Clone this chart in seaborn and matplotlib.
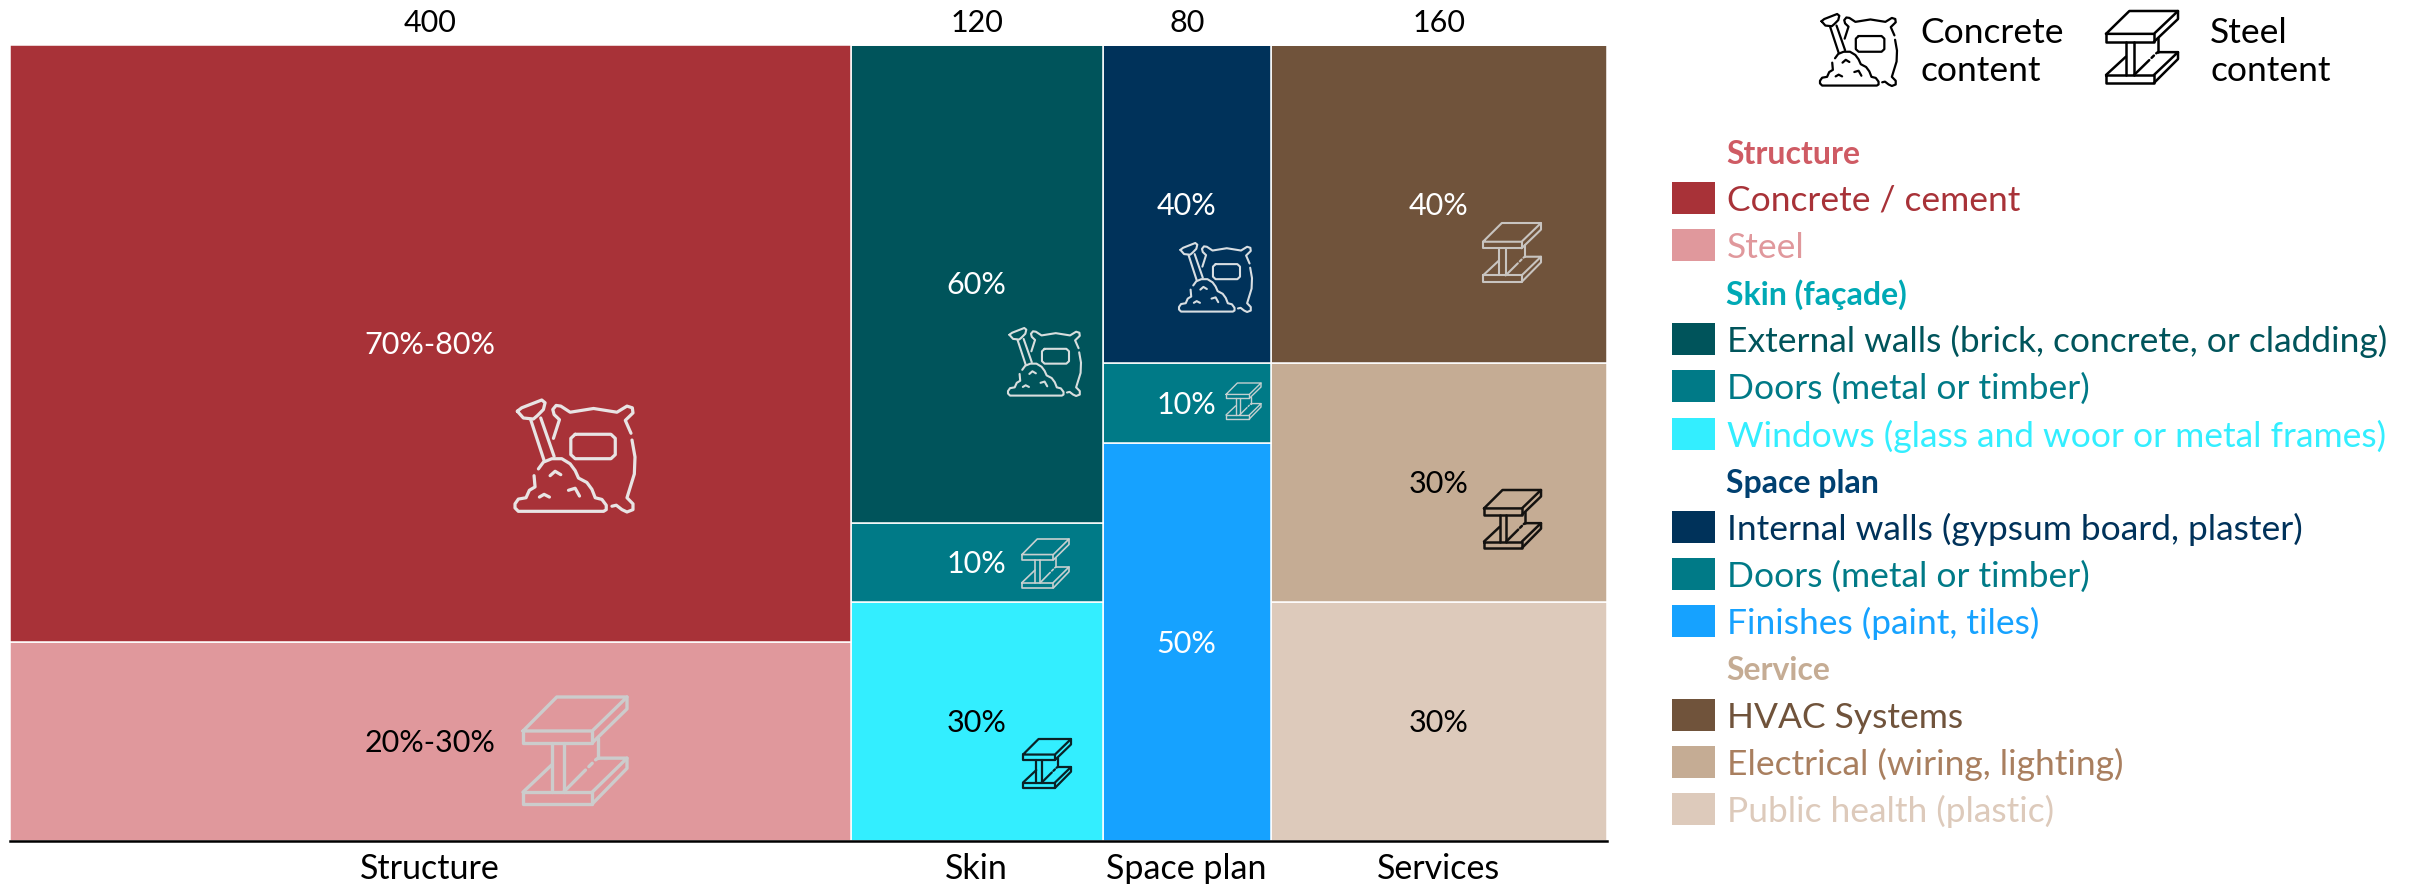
import numpy as np
import pandas as pd
import matplotlib.pyplot as plt
import seaborn as sns
from matplotlib.patches import Rectangle

# categories (bar widths, totals shown on top)
categories = ["Structure", "Skin", "Space plan", "Services"]
widths = [400, 120, 80, 160]

# parts per category, top to bottom
structure_parts = ["Concrete / cement", "Steel"]
structure_shares = [75, 25]
structure_labels = ["70%-80%", "20%-30%"]

skin_parts = ["External walls (brick, concrete, or cladding)", "Doors (metal or timber)", "Windows (glass and woor or metal frames)"]
skin_shares = [60, 10, 30]
skin_labels = ["60%", "10%", "30%"]

space_parts = ["Internal walls (gypsum board, plaster)", "Doors (metal or timber) ", "Finishes (paint, tiles)"]
space_shares = [40, 10, 50]
space_labels = ["40%", "10%", "50%"]

service_parts = ["HVAC Systems", "Electrical (wiring, lighting)", "Public health (plastic)"]
service_shares = [40, 30, 30]
service_labels = ["40%", "30%", "30%"]

all_parts = [structure_parts, skin_parts, space_parts, service_parts]
all_shares = [structure_shares, skin_shares, space_shares, service_shares]
all_labels = [structure_labels, skin_labels, space_labels, service_labels]

# colours
fills = ["#A83238", "#E0989C", "#00545B", "#007A87", "#33EEFF", "#00325A", "#007A87", "#16A2FF", "#70533B", "#C5AC94", "#DDCABB"]
label_colors = ["white", "black", "white", "white", "black", "white", "white", "white", "white", "black", "black"]
legend_text = ["#A83238", "#E0989C", "#00545B", "#007A87", "#33EEFF", "#00325A", "#007A87", "#16A2FF", "#70533B", "#A97F5F", "#DDCABB"]
header_colors = ["#CF5B64", "#00A9B5", "#004070", "#C5AC94"]
headers = ["Structure", "Skin (façade)", "Space plan", "Service"]

sns.set_theme(style="white")
plt.rcParams["font.family"] = ["Lato", "DejaVu Sans"]

W, H = 2420, 884
TXT = 22
WORDS = 25.5

fig = plt.figure(figsize=(W / 100, H / 100), dpi=100)
ax = fig.add_axes([10 / W, 1 - 841 / H, (1607 - 10) / W, (841 - 45) / H])

# build the table
edges = np.concatenate([[0], np.cumsum(widths)])
mids = (edges[:-1] + edges[1:]) / 2
rows = []
for i, cat in enumerate(categories):
    for p, s in zip(all_parts[i], all_shares[i]):
        rows.append({"category": cat, "part": p, "share": s, "mid": mids[i]})
df = pd.DataFrame(rows)

part_order = list(df["part"])
palette = dict(zip(part_order, fills))

# histplot with weights and uneven bins gives the variable width stacked bars
sns.histplot(data=df, x="mid", weights="share", hue="part", hue_order=part_order,
             palette=palette, bins=[float(e) for e in edges], multiple="stack", alpha=1,
             edgecolor="white", linewidth=1.1, legend=False, ax=ax)

ax.set_xlim(0, edges[-1])
ax.set_ylim(0, 100)
ax.set_xlabel("")
ax.set_ylabel("")
ax.set_yticks([])
ax.set_xticks(mids)
ax.set_xticklabels(categories, fontsize=24.5, color="black")
ax.tick_params(axis="x", length=0, pad=8.5)
sns.despine(ax=ax, left=True)
ax.spines["bottom"].set_linewidth(1.8)
ax.spines["bottom"].set_color("black")

top = ax.secondary_xaxis("top")
top.set_xticks(mids)
top.set_xticklabels([str(w) for w in widths], fontsize=TXT, color="black")
top.tick_params(axis="x", length=0, pad=6)
top.spines["top"].set_visible(False)

# percentage labels centred in each block
k = 0
for i in range(len(categories)):
    base = 100
    for s, lab in zip(all_shares[i], all_labels[i]):
        ax.text(mids[i], base - s / 2 - 0.2, lab, ha="center", va="center", fontsize=TXT, color=label_colors[k])
        base -= s
        k += 1

# icon outlines, traced
bag_lines = [
    [(112,95),(125,85),(185,62),(195,70),(190,90),(172,108),(160,118),(130,115),(112,95)],
    [(152,120),(192,240)],
    [(182,115),(222,228)],
    [(175,265),(190,245),(215,235),(245,235),(270,250),(285,270),(295,292),(320,305),(335,325),(345,350),(365,355),(378,372),(378,385),(370,390),(115,390),(105,380),(105,368),(115,354),(138,350),(148,328),(165,318),(162,285)],
    [(210,285),(225,272),(242,282)],
    [(178,348),(192,340),(208,348)],
    [(265,328),(285,322),(298,345)],
    [(220,175),(238,120),(222,105),(218,90),(228,78),(242,80),(270,98),(340,87),(410,98),(440,80),(456,85),(458,100),(435,122),(452,160)],
    [(455,180),(464,230),(462,280),(440,350),(458,368),(458,385),(440,392),(425,385),(408,372),(395,375)],
    [(285,163),(392,163),(405,175),(405,223),(392,235),(285,235),(272,223),(272,175),(285,163)],
]
beam_lines = [
    [(100,155),(200,55),(408,55),(305,155),(100,155)],
    [(100,155),(100,190),(305,190),(305,155)],
    [(305,190),(408,90),(408,55)],
    [(185,190),(185,335)],
    [(220,190),(220,335)],
    [(100,335),(305,335),(305,370),(100,370),(100,335)],
    [(100,335),(185,255)],
    [(220,335),(285,270)],
    [(295,260),(305,250)],
    [(315,240),(322,235),(408,235),(305,335)],
    [(408,235),(408,265),(305,370)],
    [(322,175),(322,235)],
]

over = fig.add_axes([0, 0, 1, 1], facecolor="none")
over.set_xlim(0, W)
over.set_ylim(H, 0)
over.axis("off")


def draw_icon(lines, box, color, lw):
    all_pts = np.array([p for line in lines for p in line], dtype=float)
    x0, y0 = all_pts.min(axis=0)
    x1, y1 = all_pts.max(axis=0)
    for line in lines:
        pts = np.array(line, dtype=float)
        xs = box[0] + (pts[:, 0] - x0) / (x1 - x0) * (box[1] - box[0])
        ys = box[2] + (pts[:, 1] - y0) / (y1 - y0) * (box[3] - box[2])
        over.plot(xs, ys, color=color, lw=lw, solid_capstyle="round", solid_joinstyle="round")


draw_icon(bag_lines, (515, 635, 400, 512), "#E8E4E4", 2.3)
draw_icon(beam_lines, (523, 627, 697, 804), "#CCCCCC", 2.4)
draw_icon(bag_lines, (1008, 1081, 328, 396), "#D8DEDE", 1.5)
draw_icon(beam_lines, (1022, 1069, 539, 588), "#C8D0D0", 1.2)
draw_icon(beam_lines, (1023, 1071, 739, 788), "#0A2226", 1.6)
draw_icon(bag_lines, (1179, 1252, 243, 312), "#D8DEE2", 1.5)
draw_icon(beam_lines, (1226, 1261, 383, 419), "#C4D0D0", 1.0)
draw_icon(beam_lines, (1483, 1541, 223, 282), "#C8C4C0", 1.5)
draw_icon(beam_lines, (1484, 1541, 490, 548), "#141210", 1.8)
draw_icon(bag_lines, (1820, 1897, 14, 86), "black", 1.6)
draw_icon(beam_lines, (2106, 2178, 11, 83), "black", 1.8)

over.text(1920, 33, "Concrete", fontsize=WORDS, va="center", color="black")
over.text(1920, 71, "content", fontsize=WORDS, va="center", color="black")
over.text(2210, 33, "Steel", fontsize=WORDS, va="center", color="black")
over.text(2210, 71, "content", fontsize=WORDS, va="center", color="black")

# hand built legend, grouped under coloured headers
header_y = [154, 295, 484, 671]
swatch_y = [[198, 245], [339, 386, 434], [527, 574, 621], [715, 762, 809]]
k = 0
for i in range(len(categories)):
    over.text(1726, header_y[i], headers[i], fontsize=23, fontweight="bold", va="center", color=header_colors[i])
    for p, y in zip(all_parts[i], swatch_y[i]):
        over.add_patch(Rectangle((1672, y - 16), 43, 32, facecolor=fills[k], edgecolor="none"))
        over.text(1727, y + 2.5, p.strip(), fontsize=WORDS, va="center", color=legend_text[k])
        k += 1

fig.savefig("out.png", dpi=100)
